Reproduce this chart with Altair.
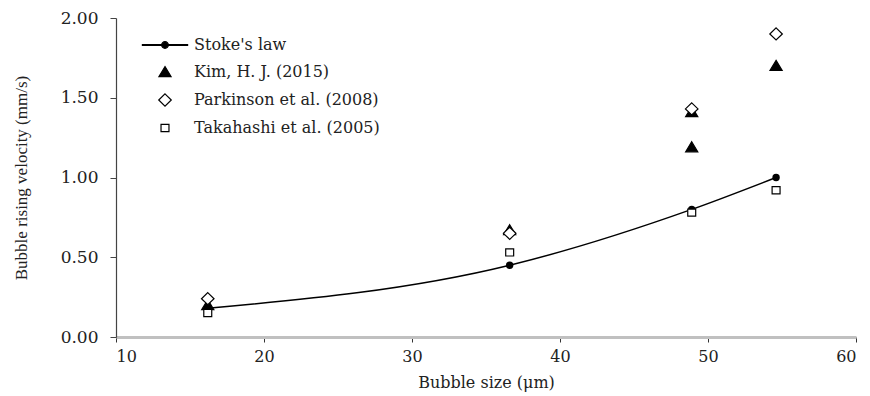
import altair as alt
import pandas as pd

# Measured series: bubble size (um) vs rising velocity (mm/s)
series_names = ["Stoke's law", "Kim, H. J. (2015)", "Parkinson et al. (2008)", "Takahashi et al. (2005)"]

stokes_x = [16.2, 36.6, 48.9, 54.6]
stokes_y = [0.18, 0.45, 0.80, 1.00]

kim_x = [16.2, 36.6, 48.9, 48.9, 54.6]
kim_y = [0.20, 0.67, 1.19, 1.41, 1.70]

park_x = [16.2, 36.6, 48.9, 54.6]
park_y = [0.24, 0.65, 1.43, 1.90]

taka_x = [16.2, 36.6, 48.9, 54.6]
taka_y = [0.15, 0.53, 0.78, 0.92]

x_ticks = [10, 20, 30, 40, 50, 60]
y_ticks = [0.0, 0.5, 1.0, 1.5, 2.0]

stokes = pd.DataFrame({"size": stokes_x, "vel": stokes_y, "series": series_names[0]})
others = pd.concat([
    pd.DataFrame({"size": kim_x, "vel": kim_y, "series": series_names[1]}),
    pd.DataFrame({"size": park_x, "vel": park_y, "series": series_names[2]}),
    pd.DataFrame({"size": taka_x, "vel": taka_y, "series": series_names[3]}),
], ignore_index=True)

SERIF = "DejaVu Serif"
SYMBOL_SIZE = 70  # one path unit = sqrt(70)/2 ~ 4.2 px

# legend glyph for the model curve: a line segment with a dot in the middle
line_dot = ("M-5.4,-0.09L-0.8,-0.09L-0.8,0.09L-5.4,0.09Z"
            "M0.8,-0.09L5.4,-0.09L5.4,0.09L0.8,0.09Z"
            "M-0.8,0A0.8,0.8,0,1,1,0.8,0A0.8,0.8,0,1,1,-0.8,0Z")
triangle = "M0,-1.3L1.45,1.1L-1.45,1.1Z"
diamond = "M0,-1.45L1.5,0L0,1.45L-1.5,0Z"
square = "M-0.95,-0.85L0.95,-0.85L0.95,0.85L-0.95,0.85Z"

x_enc = alt.X("size:Q", scale=alt.Scale(domain=[10, 60], nice=False),
              axis=alt.Axis(values=x_ticks, title="Bubble size (\u03bcm)", format="d",
                            grid=False, domainColor="#c0c0c0", domainWidth=3,
                            tickColor="#333", tickSize=5, labelFont=SERIF, labelFontSize=16,
                            labelColor="#222", labelPadding=6, titleFont=SERIF,
                            titleFontSize=16, titleFontWeight="normal", titleColor="#222",
                            titlePadding=10))
y_enc = alt.Y("vel:Q", scale=alt.Scale(domain=[0, 2], nice=False),
              axis=alt.Axis(values=y_ticks, format=".2f",
                            title="Bubble rising velocity (mm/s)", grid=False,
                            domainColor="#444", domainWidth=1.2, tickColor="#444",
                            tickSize=6, labelFont=SERIF, labelFontSize=17,
                            labelColor="#222", labelPadding=12,
                            titleFont="Liberation Serif", titleFontSize=17,
                            titleFontWeight="normal", titleColor="#222", titlePadding=30))

curve = alt.Chart(stokes).mark_line(color="black", strokeWidth=1.5,
                                     interpolate="monotone").encode(x=x_enc, y=y_enc)
dots = alt.Chart(stokes).mark_point(shape="circle", filled=True, color="black",
                                     size=55, opacity=1).encode(x="size:Q", y="vel:Q")

legend = alt.Legend(title=None, orient="none", legendX=41, legendY=19, padding=0,
                    labelFont=SERIF, labelFontSize=16, labelColor="#222", labelLimit=400,
                    labelOffset=21, rowPadding=11, symbolSize=SYMBOL_SIZE,
                    symbolStrokeWidth=1.2)
points = alt.Chart(others).mark_point(opacity=1, stroke="black", strokeWidth=1.2,
                                      size=SYMBOL_SIZE).encode(
    x="size:Q",
    y="vel:Q",
    shape=alt.Shape("series:N", scale=alt.Scale(domain=series_names,
                    range=[line_dot, triangle, diamond, square]), legend=legend),
    fill=alt.Fill("series:N", scale=alt.Scale(domain=series_names,
                  range=["black", "black", "white", "white"]), legend=legend),
)

chart = alt.layer(curve, dots, points).properties(
    width=740, height=319,
    autosize=alt.AutoSizeParams(type="none"),
    padding={"left": 116, "top": 18, "right": 14, "bottom": 59},
    background="white",
).configure_view(stroke=None)

chart.save("out.html", embed_options={"renderer": "svg", "actions": False})
